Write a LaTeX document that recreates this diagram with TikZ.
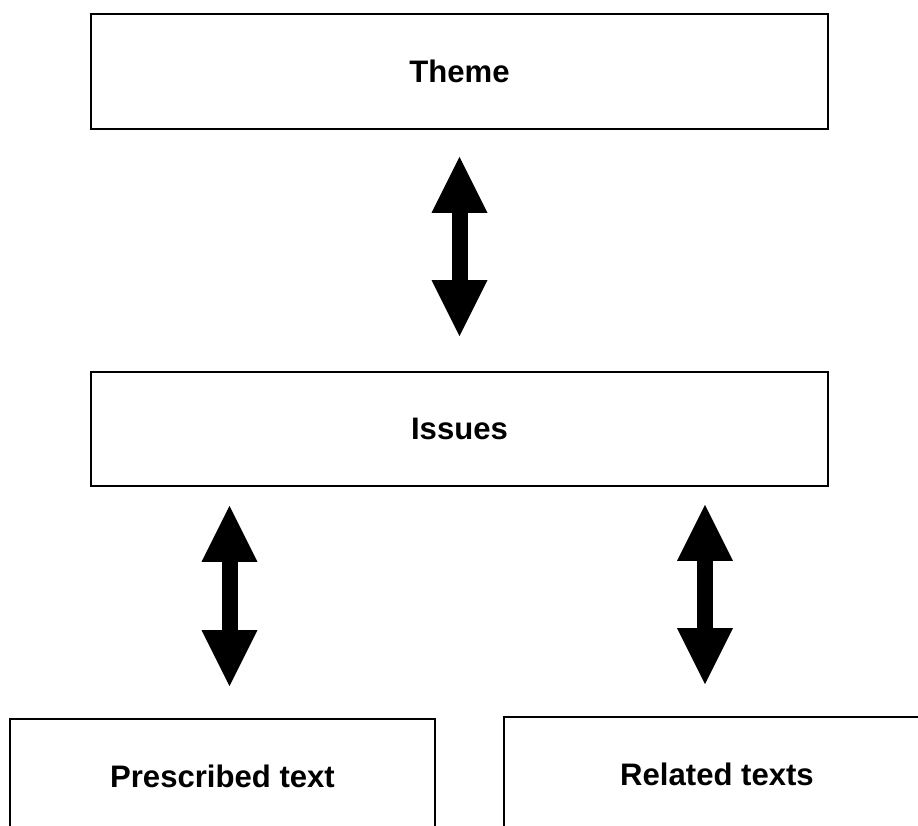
\documentclass[tikz,border=0pt]{standalone}
\usepackage{fontspec}
\setmainfont{Liberation Sans}
\usepackage{tikz}
\usetikzlibrary{arrows.meta}

\begin{document}
\begin{tikzpicture}[x=0.02cm, y=-0.02cm,
  box/.style={rectangle, draw, line width=1.1pt, minimum height=2.3cm, align=center, font=\fontsize{17.7}{21}\selectfont\bfseries},
  widebox/.style={box, minimum width=14.74cm},
  textbox/.style={box, minimum width=8.5cm},
  linkarrow/.style={line width=0.32cm, {Triangle[length=1.12cm, width=1.12cm, line width=0pt]}-{Triangle[length=1.12cm, width=1.12cm, line width=0pt]}}
]
\useasboundingbox (0,0) rectangle (918,825);
\clip (0,0) rectangle (918,825);

% Theme and issues
\node[widebox] (theme) at (459.5,71.5) {Theme};
\node[widebox, minimum height=2.28cm] (issues) at (459.5,429) {Issues};

% Texts
\node[textbox] (prescribed) at (222.5,776.5) {Prescribed text};
\node[textbox, minimum width=8.52cm] (related) at (717,774.5) {Related texts};

% Connections
\draw[linkarrow, shorten <=0.54cm, shorten >=0.70cm] (theme) -- (issues);
\draw[linkarrow, shorten <=0.38cm, shorten >=0.64cm] ([xshift=0.14cm]issues.south -| prescribed.north) -- ([xshift=0.14cm]prescribed.north);
\draw[linkarrow, shorten <=0.36cm, shorten >=0.64cm] ([xshift=-0.24cm]issues.south -| related.north) -- ([xshift=-0.24cm]related.north);

\end{tikzpicture}
\end{document}
